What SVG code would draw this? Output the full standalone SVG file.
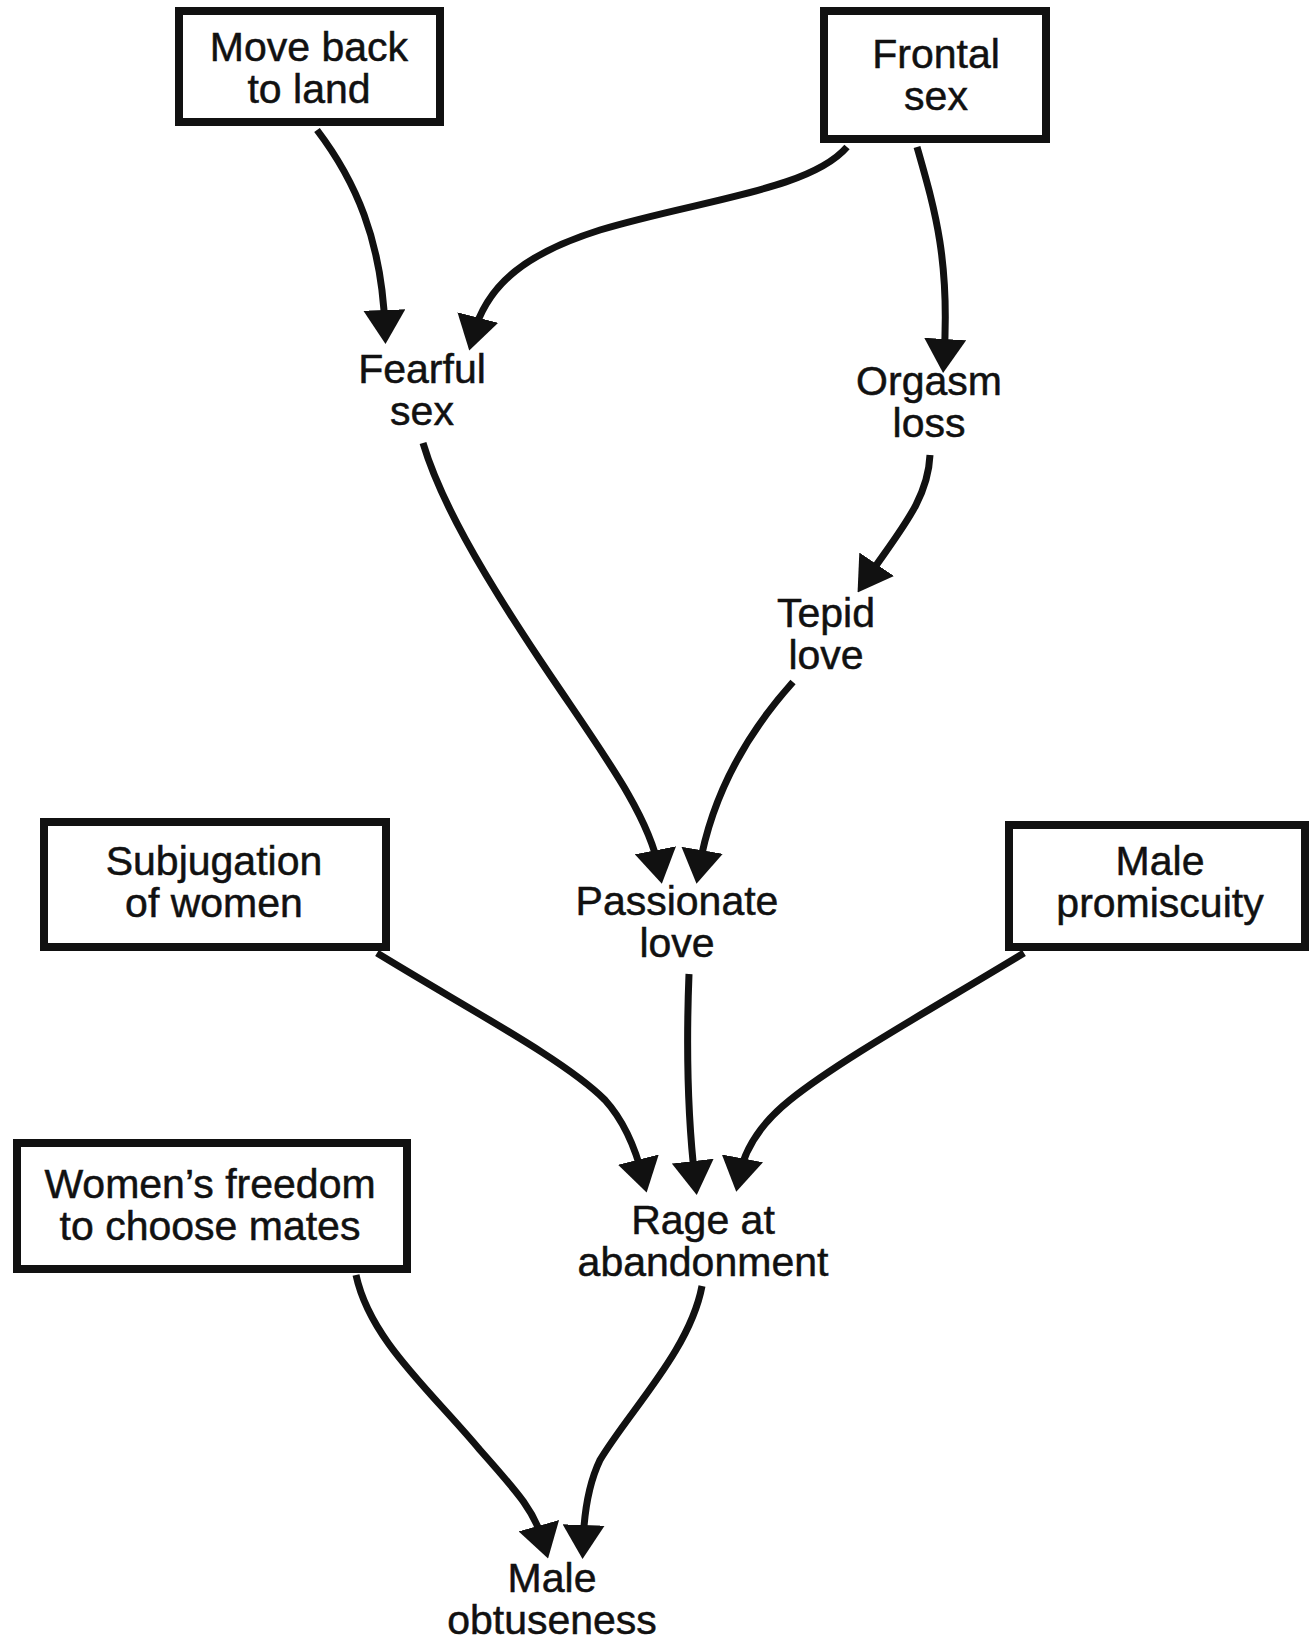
<svg xmlns="http://www.w3.org/2000/svg" width="1312" height="1642" viewBox="0 0 1312 1642">
<style>
.box{fill:#fff;stroke:#111;stroke-width:8}
.lbl{font-family:"Liberation Sans",Arial,sans-serif;font-size:41px;fill:#111;stroke:#111;stroke-width:0.5;text-anchor:middle}
.edge{fill:none;stroke:#111;stroke-width:7}
</style>
<defs>
<marker id="ah" markerUnits="userSpaceOnUse" viewBox="0 0 34 42" refX="19" refY="21" markerWidth="34" markerHeight="42" orient="auto">
<path d="M0,0 L34,21 L0,42 z" fill="#111"/>
</marker>
</defs>
<rect width="1312" height="1642" fill="#fff"/>
<g id="connectors">
<path class="edge" marker-end="url(#ah)" d="M317,130 C355,180 382,240 385,329"/>
<path class="edge" marker-end="url(#ah)" d="M847,147 C810,190 700,200 600,230 C530,252 487,282 473,336"/>
<path class="edge" marker-end="url(#ah)" d="M917,147 C935,210 950,260 944,358"/>
<path class="edge" marker-end="url(#ah)" d="M930,455 C928,500 900,530 866,580"/>
<path class="edge" marker-end="url(#ah)" d="M423,443 C440,500 480,570 540,660 C600,750 648,812 659,869"/>
<path class="edge" marker-end="url(#ah)" d="M793,682 C750,730 712,792 699,869"/>
<path class="edge" marker-end="url(#ah)" d="M689,974 C686,1050 688,1120 695,1180"/>
<path class="edge" marker-end="url(#ah)" d="M377,953 C470,1010 565,1060 605,1100 C625,1122 636,1150 643,1178"/>
<path class="edge" marker-end="url(#ah)" d="M1024,953 C930,1010 840,1060 790,1100 C765,1120 745,1145 739,1177"/>
<path class="edge" marker-end="url(#ah)" d="M356,1275 C370,1340 430,1390 480,1450 C520,1495 535,1512 544,1544"/>
<path class="edge" marker-end="url(#ah)" d="M702,1286 C690,1350 630,1410 600,1460 C588,1485 584,1512 583,1544"/>
</g>
<g id="move-back-to-land">
<rect class="box" x="179" y="11" width="261" height="111"/>
<text class="lbl" x="309" y="61">Move back</text>
<text class="lbl" x="309" y="103">to land</text>
</g>
<g id="frontal-sex">
<rect class="box" x="824" y="11" width="222" height="128"/>
<text class="lbl" x="936" y="68">Frontal</text>
<text class="lbl" x="936" y="110">sex</text>
</g>
<g id="fearful-sex">
<text class="lbl" x="422" y="383">Fearful</text>
<text class="lbl" x="422" y="425">sex</text>
</g>
<g id="orgasm-loss">
<text class="lbl" x="929" y="395">Orgasm</text>
<text class="lbl" x="929" y="437">loss</text>
</g>
<g id="tepid-love">
<text class="lbl" x="826" y="627">Tepid</text>
<text class="lbl" x="826" y="669">love</text>
</g>
<g id="passionate-love">
<text class="lbl" x="677" y="915">Passionate</text>
<text class="lbl" x="677" y="957">love</text>
</g>
<g id="subjugation-of-women">
<rect class="box" x="44" y="822" width="342" height="125"/>
<text class="lbl" x="214" y="875">Subjugation</text>
<text class="lbl" x="214" y="917">of women</text>
</g>
<g id="male-promiscuity">
<rect class="box" x="1009" y="825" width="296" height="122"/>
<text class="lbl" x="1160" y="875">Male</text>
<text class="lbl" x="1160" y="917">promiscuity</text>
</g>
<g id="rage-at-abandonment">
<text class="lbl" x="703" y="1234">Rage at</text>
<text class="lbl" x="703" y="1276">abandonment</text>
</g>
<g id="womens-freedom">
<rect class="box" x="17" y="1143" width="390" height="126"/>
<text class="lbl" x="210" y="1198">Women’s freedom</text>
<text class="lbl" x="210" y="1240">to choose mates</text>
</g>
<g id="male-obtuseness">
<text class="lbl" x="552" y="1592">Male</text>
<text class="lbl" x="552" y="1634">obtuseness</text>
</g>
</svg>
